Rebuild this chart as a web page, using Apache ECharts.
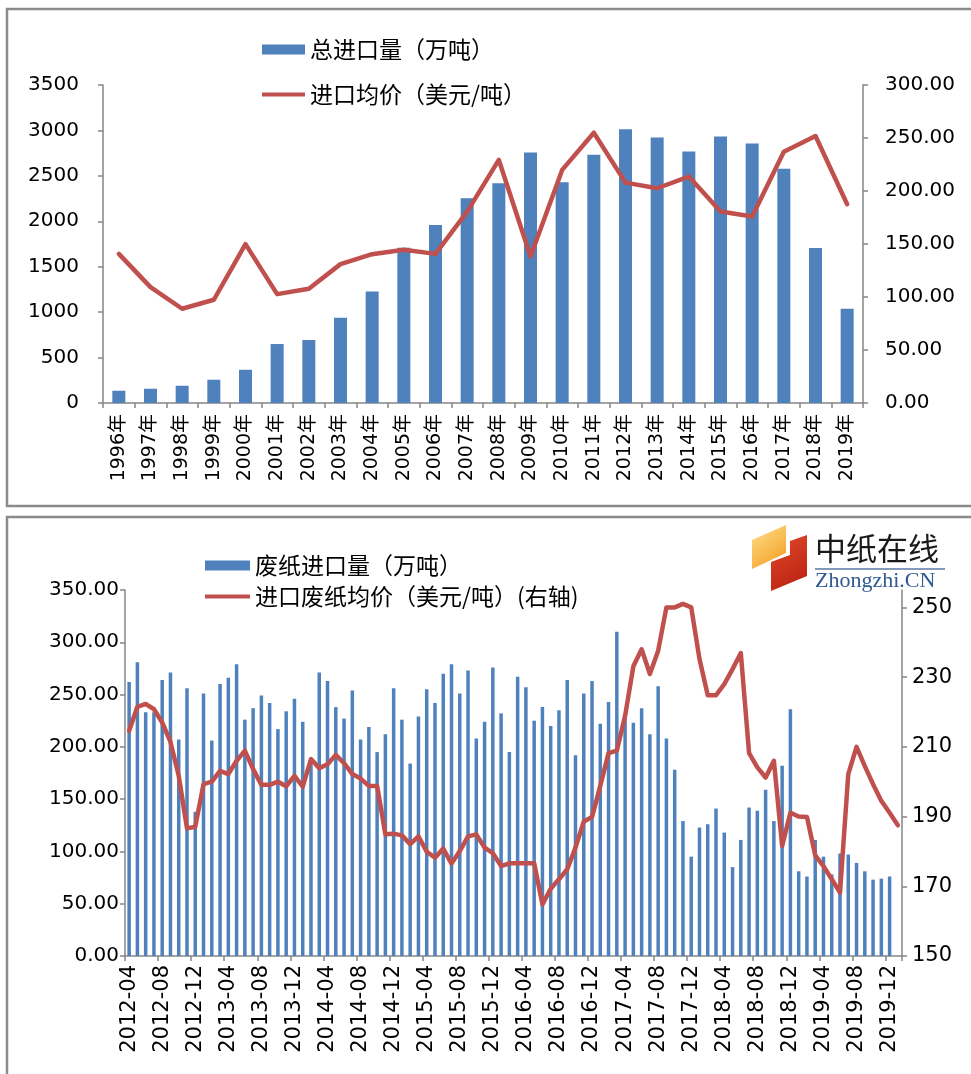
<!DOCTYPE html>
<html>
<head>
<meta charset="utf-8">
<script src="https://cdn.jsdelivr.net/npm/echarts@6/dist/echarts.min.js"></script>
<style>
html,body{margin:0;padding:0;background:#fff;}
#c{width:971px;height:1074px;}
</style>
</head>
<body>
<div id="c"></div>
<script>
// ---- Top chart data ----
var years = ['1996年','1997年','1998年','1999年','2000年','2001年','2002年','2003年','2004年','2005年','2006年','2007年','2008年','2009年','2010年','2011年','2012年','2013年','2014年','2015年','2016年','2017年','2018年','2019年'];
var totalImport = [135,157,190,256,366,649,693,938,1227,1708,1960,2254,2419,2756,2430,2731,3013,2921,2767,2932,2855,2577,1705,1037];
var avgPrice = [140.7,109.3,88.9,97.4,149.9,102.7,107.7,131.0,140.4,144.5,140.7,180.6,229.3,138.2,219.9,255.0,207.9,202.6,213.6,180.6,175.9,237.1,251.9,187.5];
var leftTicksTop = [0,500,1000,1500,2000,2500,3000,3500];
var rightTicksTop = [0,50,100,150,200,250,300];

// ---- Bottom chart data ----
var months = [
 '2012-04','2012-05','2012-06','2012-07','2012-08','2012-09','2012-10','2012-11','2012-12',
 '2013-01','2013-02','2013-03','2013-04','2013-05','2013-06','2013-07','2013-08','2013-09','2013-10','2013-11','2013-12',
 '2014-01','2014-02','2014-03','2014-04','2014-05','2014-06','2014-07','2014-08','2014-09','2014-10','2014-11','2014-12',
 '2015-01','2015-02','2015-03','2015-04','2015-05','2015-06','2015-07','2015-08','2015-09','2015-10','2015-11','2015-12',
 '2016-01','2016-02','2016-03','2016-04','2016-05','2016-06','2016-07','2016-08','2016-09','2016-10','2016-11','2016-12',
 '2017-01','2017-02','2017-03','2017-04','2017-05','2017-06','2017-07','2017-08','2017-09','2017-10','2017-11','2017-12',
 '2018-01','2018-02','2018-03','2018-04','2018-05','2018-06','2018-07','2018-08','2018-09','2018-10','2018-11','2018-12',
 '2019-01','2019-02','2019-03','2019-04','2019-05','2019-06','2019-07','2019-08','2019-09','2019-10','2019-11','2019-12',
 '2020-01'];
var wasteImport = [262,281,233,233,264,271,207,256,138,251,206,260,266,279,226,237,249,242,217,234,246,224,185,271,263,238,227,254,207,219,195,212,256,226,184,229,255,242,270,279,251,273,208,224,276,232,195,267,257,225,238,220,235,264,192,251,263,222,243,310,228,223,237,212,258,208,178,129,95,123,126,141,118,85,111,142,139,159,129,182,236,81,76,111,95,78,98,97,89,81,73,74,76,null];
var wastePrice = [214.6,221.5,222.3,220.8,217.0,211.4,201.7,186.6,187.1,199.3,200.0,203.1,202.2,206.0,208.9,203.6,199.1,199.1,200.0,198.7,201.7,198.6,206.5,203.9,205.0,207.7,205.3,202.2,200.9,198.8,198.8,184.9,185.1,184.6,182.1,184.3,179.9,178.2,180.8,176.5,180.1,184.3,184.9,181.1,179.5,175.8,176.6,176.6,176.6,176.6,164.8,169.3,172.0,174.9,181.1,188.6,189.9,198.8,208.2,208.9,218.9,233.1,238.0,230.9,237.6,250.0,250.0,251.0,250.0,235.2,224.8,224.8,228.0,232.3,236.9,208.2,204.1,201.2,206.0,181.6,191.1,190.0,189.9,178.9,175.8,172.0,168.2,202.2,210.0,204.5,199.3,194.5,191.1,187.5];

var BLUE = '#4F81BD', RED = '#C0504D', AX = '#868686';
var NUM_FONT = 'DejaVu Sans, Noto Sans CJK SC, sans-serif';
var CJK_FONT = 'Noto Sans CJK SC, sans-serif';

var chart = echarts.init(document.getElementById('c'), null, {renderer:'canvas'});

function valueAxis(o){
  return Object.assign({
    type:'value',
    axisLine:{show:true, lineStyle:{color:AX, width:1.5}},
    axisTick:{show:true, length:5, lineStyle:{color:AX, width:1.5}},
    splitLine:{show:false}
  }, o);
}

var option = {
  backgroundColor:'#fff',
  animation:false,
  graphic:[
    {type:'rect', shape:{x:7, y:9, width:990, height:497}, style:{fill:'none', stroke:'#8a8a8a', lineWidth:2.5}, z:0},
    {type:'rect', shape:{x:7, y:517, width:990, height:600}, style:{fill:'none', stroke:'#8a8a8a', lineWidth:2.5}, z:0},
    // logo
    {type:'polygon', shape:{points:[[752,540],[786,525],[786,553],[752,569]]},
     style:{fill:new echarts.graphic.LinearGradient(0,0,1,1,[{offset:0,color:'#ffe08a'},{offset:1,color:'#f29a1f'}])}, z:10},
    {type:'polygon', shape:{points:[[790,541],[807,535],[807,576],[771,591],[771,562],[790,555]]},
     style:{fill:new echarts.graphic.LinearGradient(0,0,1,1,[{offset:0,color:'#e2482a'},{offset:1,color:'#b71f10'}])}, z:10},
    {type:'text', left:815, top:533, style:{text:'中纸在线', font:'31px Noto Sans CJK SC', fill:'#1a1a1a'}, z:10},
    {type:'line', shape:{x1:815, y1:569, x2:945, y2:569}, style:{stroke:'#5a78a4', lineWidth:1.5}, z:10},
    {type:'text', left:815, top:570, style:{text:'Zhongzhi.CN', font:'22px Liberation Serif', fill:'#2f5a93'}, z:10}
  ],
  legend:[
    {data:['总进口量（万吨）'], left:262, top:38, padding:0, icon:'rect', itemWidth:43, itemHeight:10,
     textStyle:{fontFamily:CJK_FONT, fontSize:23, color:'#000'}},
    {data:['进口均价（美元/吨）'], left:262, top:83, padding:0, icon:'rect', itemWidth:43, itemHeight:4,
     textStyle:{fontFamily:CJK_FONT, fontSize:23, color:'#000'}},
    {data:['废纸进口量（万吨）'], left:205, top:554, padding:0, icon:'rect', itemWidth:45, itemHeight:10,
     textStyle:{fontFamily:CJK_FONT, fontSize:23, color:'#000'}},
    {data:['进口废纸均价（美元/吨）(右轴)'], left:205, top:585, padding:0, icon:'rect', itemWidth:45, itemHeight:4,
     textStyle:{fontFamily:CJK_FONT, fontSize:23, color:'#000'}}
  ],
  grid:[
    {left:103, top:85, width:760, height:318, containLabel:false},
    {left:125, top:590, width:777, height:366, containLabel:false}
  ],
  xAxis:[
    {type:'category', gridIndex:0, data:years, boundaryGap:true,
     axisLine:{lineStyle:{color:AX, width:1.5}},
     axisTick:{show:true, length:5, alignWithLabel:false, interval:0, lineStyle:{color:AX, width:1.5}},
     axisLabel:{rotate:90, interval:0, margin:11, color:'#000', fontFamily:NUM_FONT, fontSize:19}},
    {type:'category', gridIndex:1, data:months, boundaryGap:true,
     axisLine:{lineStyle:{color:AX, width:1.5}},
     axisTick:{show:true, length:5, alignWithLabel:false, interval:3, lineStyle:{color:AX, width:1.5}},
     axisLabel:{rotate:90, interval:3, margin:9, color:'#000', fontFamily:NUM_FONT, fontSize:21}}
  ],
  yAxis:[
    valueAxis({gridIndex:0, position:'left', min:leftTicksTop[0], max:leftTicksTop[leftTicksTop.length-1], interval:500,
      axisLabel:{color:'#000', fontFamily:NUM_FONT, fontSize:20, margin:24, formatter:function(v){return String(v);}}}),
    valueAxis({gridIndex:0, position:'right', min:rightTicksTop[0], max:rightTicksTop[rightTicksTop.length-1], interval:50,
      axisLabel:{color:'#000', fontFamily:NUM_FONT, fontSize:20, margin:22, formatter:function(v){return v.toFixed(2);}}}),
    valueAxis({gridIndex:1, position:'left', min:0, max:350, interval:50,
      axisLabel:{color:'#000', fontFamily:NUM_FONT, fontSize:20, margin:6, formatter:function(v){return v.toFixed(2);}}}),
    valueAxis({gridIndex:1, position:'right', min:150, max:255, interval:20,
      axisLabel:{color:'#000', fontFamily:NUM_FONT, fontSize:21, margin:10, showMaxLabel:false,
        formatter:function(v){return (v%10===0)?String(v):'';}}})
  ],
  series:[
    {name:'总进口量（万吨）', type:'bar', xAxisIndex:0, yAxisIndex:0, data:totalImport, barWidth:13,
     itemStyle:{color:BLUE}, color:BLUE},
    {name:'进口均价（美元/吨）', type:'line', xAxisIndex:0, yAxisIndex:1, data:avgPrice, symbol:'none',
     color:RED, itemStyle:{color:RED}, lineStyle:{color:RED, width:4.5, join:'round', cap:'round'}},
    {name:'废纸进口量（万吨）', type:'bar', xAxisIndex:1, yAxisIndex:2, data:wasteImport, barWidth:3.5,
     itemStyle:{color:BLUE}, color:BLUE},
    {name:'进口废纸均价（美元/吨）(右轴)', type:'line', xAxisIndex:1, yAxisIndex:3, data:wastePrice, symbol:'none',
     color:RED, itemStyle:{color:RED}, lineStyle:{color:RED, width:4.5, join:'round', cap:'round'}}
  ]
};
chart.setOption(option);
</script>
</body>
</html>
